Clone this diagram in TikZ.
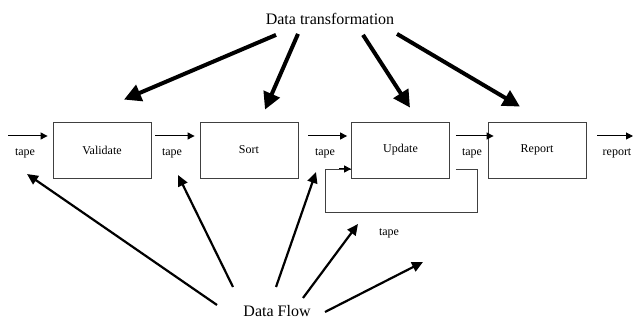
\documentclass[tikz,border=0pt]{standalone}
\usepackage{fontspec}
\setmainfont{Liberation Serif}
\usetikzlibrary{arrows.meta}

\begin{document}
\begin{tikzpicture}[x=1pt, y=-1pt,
  font=\fontsize{12}{14}\selectfont,
  stage/.style={draw=black!75, line width=0.8pt, minimum width=98pt, minimum height=56pt, inner sep=0pt},
  lbl/.style={inner sep=1pt},
  bigtext/.style={font=\fontsize{16}{18}\selectfont, inner sep=1pt},
  tapearrow/.style={line width=1pt, -{Triangle[length=7pt,width=7pt]}},
  looppath/.style={draw=black!75, line width=0.8pt},
  transarrow/.style={line width=4pt, -{Triangle[length=17pt,width=17pt]}},
  flowarrow/.style={line width=2.2pt, -{Triangle[length=11pt,width=10pt]}},
  ]
  \useasboundingbox (0,0) rectangle (633,320);

  %%% processing stages %%%
  \node[stage] (validate) at (102,150)   {Validate};
  \node[stage] (sort)     at (249,150)   {Sort};
  \node[stage] (update)   at (400.5,150) {Update};
  \node[stage] (report)   at (537,150)   {Report};

  %%% tape arrows along the line %%%
  \coordinate (tapein)  at (8,136);
  \coordinate (tapeout) at (633,136);
  \draw[tapearrow, shorten >=5pt] (tapein) -- (tapein -| validate.west);
  \draw[tapearrow, shorten <=4pt, shorten >=5pt] ([yshift=14pt]validate.east) -- ([yshift=14pt]sort.west);
  \draw[tapearrow, shorten <=10pt, shorten >=4pt] ([yshift=14pt]sort.east) -- ([yshift=14pt]update.west);
  \draw[tapearrow, shorten <=6pt, shorten >=-6pt] ([yshift=14pt]update.east) -- ([yshift=14pt]report.west);
  \draw[tapearrow, shorten <=11pt] ([yshift=14pt]report.east) -- (tapeout);

  %%% tape labels %%%
  \node[lbl] (tape1)  at (25,153)  {tape};
  \node[lbl] (tape2)  at (172,153) {tape};
  \node[lbl] (tape3)  at (325,153) {tape};
  \node[lbl] (tape4)  at (472,153) {tape};
  \node[lbl] (outlbl) at (617,153) {report};

  %%% update feedback loop %%%
  \coordinate (loopbr) at (477,212);
  \coordinate (loopbl) at (325,212);
  \draw[looppath] ([xshift=6pt,yshift=-19pt]update.east) -| (loopbr) -- (loopbl)
    |- ([yshift=-19pt]update.west);
  \draw[tapearrow] ([xshift=-12pt,yshift=-19pt]update.west) -- ([yshift=-19pt]update.west);
  \node[lbl] (tape5) at (389,233) {tape};

  %%% data transformation arrows %%%
  \node[bigtext] (trans) at (330,19) {Data transformation};
  \draw[transarrow] ([xshift=-54pt,yshift=-9pt]trans.south) -- ([xshift=22pt,yshift=22pt]validate.north);
  \draw[transarrow] ([xshift=-32pt,yshift=-8pt]trans.south) -- ([xshift=16pt,yshift=12pt]sort.north);
  \draw[transarrow] ([xshift=33pt,yshift=-9pt]trans.south)  -- ([xshift=9.5pt,yshift=14pt]update.north);
  \draw[transarrow] ([xshift=67pt,yshift=-8pt]trans.south)  -- ([xshift=-17pt,yshift=15pt]report.north);

  %%% data flow arrows %%%
  \node[bigtext] (flow) at (277,311) {Data Flow};
  \coordinate (flowtip1) at (27,174);
  \coordinate (flowtip2) at (178,175);
  \coordinate (flowtip3) at (316,172);
  \coordinate (flowtip4) at (358,224);
  \coordinate (flowtip5) at (423,262);
  \draw[flowarrow] ([xshift=-60pt,yshift=6pt]flow.center)  -- (flowtip1);
  \draw[flowarrow] ([xshift=-44pt,yshift=24pt]flow.center) -- (flowtip2);
  \draw[flowarrow] ([xshift=-1pt,yshift=24pt]flow.center)  -- (flowtip3);
  \draw[flowarrow] ([xshift=26pt,yshift=13pt]flow.center)  -- (flowtip4);
  \draw[flowarrow] ([xshift=48pt,yshift=-1pt]flow.center)  -- (flowtip5);
\end{tikzpicture}
\end{document}
